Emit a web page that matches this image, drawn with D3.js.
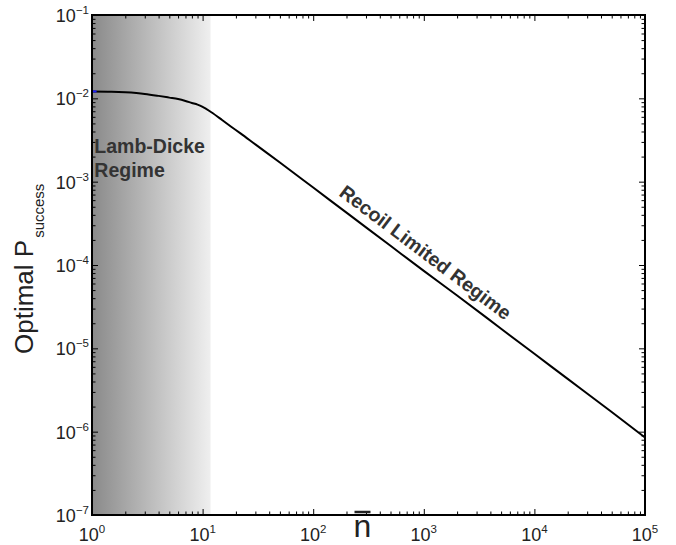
<!DOCTYPE html>
<html>
<head>
<meta charset="utf-8">
<script src="https://cdn.jsdelivr.net/npm/d3@7"></script>
<style>
  body { margin: 0; background: #fff; }
  text { font-family: "Liberation Sans", Arial, sans-serif; }
</style>
</head>
<body>
<div id="container"></div>
<script>
// values
var nbar = [1, 1.5, 2, 3, 4, 5, 6, 7, 8, 9, 10, 12, 15, 18, 22, 30, 50, 100, 200, 500, 1000, 2000, 5000, 1e4, 2e4, 5e4, 1e5];
var psuccess = [0.0121, 0.0120, 0.0118, 0.0113, 0.0107, 0.0102, 0.0098, 0.0093, 0.0088, 0.0084, 0.0079, 0.0068, 0.0055, 0.0046, 0.0038, 0.0028, 0.0017, 8.5e-4, 4.25e-4, 1.7e-4, 8.5e-5, 4.3e-5, 1.72e-5, 8.6e-6, 4.3e-6, 1.72e-6, 8.5e-7];
// short blue piece that peeks out at the start
var nbarBlue = [1, 1.1];
var psuccessBlue = [0.0121, 0.0121];

var xTickExp = [0, 1, 2, 3, 4, 5];
var yTickExp = [-7, -6, -5, -4, -3, -2, -1];
var lambDickeEnd = 11.8;   // where the shaded region stops

var margin = {top: 15, right: 31, bottom: 30, left: 92};
var outer_width = 676;
var outer_height = 545;
var w = outer_width - margin.left - margin.right;
var h = outer_height - margin.top - margin.bottom;

var svg = d3.select("#container").append("svg")
    .attr("width", outer_width)
    .attr("height", outer_height);

var xScale = d3.scaleLog().domain([1, 1e5]).range([0, w]);
var yScale = d3.scaleLog().domain([1e-7, 1e-1]).range([h, 0]);

var defs = svg.append("defs");
var grad = defs.append("linearGradient").attr("id", "ld")
    .attr("x1", "0%").attr("x2", "100%").attr("y1", "0%").attr("y2", "0%");
grad.append("stop").attr("offset", "0%").attr("stop-color", "#8a8a8a");
grad.append("stop").attr("offset", "100%").attr("stop-color", "#efefef");

var g = svg.append("g").attr("transform", "translate(" + margin.left + "," + margin.top + ")");

// shaded Lamb-Dicke region
g.append("rect")
    .attr("x", xScale(1)).attr("y", 0)
    .attr("width", xScale(lambDickeEnd) - xScale(1))
    .attr("height", h)
    .attr("fill", "url(#ld)");

// ticks (inside, on all four sides like matlab's box)
var xMajor = xTickExp.map(function(e){ return Math.pow(10, e); });
var yMajor = yTickExp.map(function(e){ return Math.pow(10, e); });
var xMinor = [], yMinor = [];
xTickExp.slice(0, -1).forEach(function(e){ for (var k = 2; k < 10; k++) xMinor.push(k * Math.pow(10, e)); });
yTickExp.slice(0, -1).forEach(function(e){ for (var k = 2; k < 10; k++) yMinor.push(k * Math.pow(10, e)); });

function tickAxis(axisFn, scale, vals, size, transform) {
    var a = g.append("g").attr("class", "ticks")
        .attr("transform", transform)
        .call(axisFn(scale).tickValues(vals).tickSize(size).tickSizeOuter(0).tickFormat(""));
    a.select(".domain").remove();
    a.selectAll("line").attr("stroke", "#000").attr("stroke-width", 1);
}
tickAxis(d3.axisBottom, xScale, xMajor, -6, "translate(0," + h + ")");
tickAxis(d3.axisBottom, xScale, xMinor, -3.5, "translate(0," + h + ")");
tickAxis(d3.axisTop, xScale, xMajor, -6, "translate(0,0)");
tickAxis(d3.axisTop, xScale, xMinor, -3.5, "translate(0,0)");
tickAxis(d3.axisLeft, yScale, yMajor, -6, "translate(0,0)");
tickAxis(d3.axisLeft, yScale, yMinor, -3.5, "translate(0,0)");
tickAxis(d3.axisRight, yScale, yMajor, -6, "translate(" + w + ",0)");
tickAxis(d3.axisRight, yScale, yMinor, -3.5, "translate(" + w + ",0)");

// curve
var data = nbar.map(function(n, i){ return {n: n, p: psuccess[i]}; });
var dataBlue = nbarBlue.map(function(n, i){ return {n: n, p: psuccessBlue[i]}; });
var line = d3.line()
    .x(function(d){ return xScale(d.n); })
    .y(function(d){ return yScale(d.p); })
    .curve(d3.curveMonotoneX);

g.append("path").datum(data)
    .attr("d", line)
    .attr("fill", "none")
    .attr("stroke", "#000")
    .attr("stroke-width", 2);
g.append("path").datum(dataBlue)
    .attr("d", line)
    .attr("fill", "none")
    .attr("stroke", "#1f1fff")
    .attr("stroke-width", 2);

// box
g.append("rect")
    .attr("x", 0).attr("y", 0).attr("width", w).attr("height", h)
    .attr("fill", "none").attr("stroke", "#000").attr("stroke-width", 2);

// tick labels
var xl = g.selectAll(".xlab").data(xTickExp).enter().append("text")
    .attr("class", "xlab")
    .attr("x", function(e){ return xScale(Math.pow(10, e)); })
    .attr("y", h + 26)
    .attr("text-anchor", "middle")
    .attr("font-size", 18)
    .attr("fill", "#222");
xl.append("tspan").text("10");
xl.append("tspan").attr("dy", -8).attr("font-size", 11.5).text(function(e){ return e; });

var yl = g.selectAll(".ylab").data(yTickExp).enter().append("text")
    .attr("class", "ylab")
    .attr("x", -3)
    .attr("y", function(e){ return yScale(Math.pow(10, e)) + 7; })
    .attr("text-anchor", "end")
    .attr("font-size", 18)
    .attr("fill", "#222");
yl.append("tspan").text("10");
yl.append("tspan").attr("dy", -8).attr("font-size", 11.5).text(function(e){ return "\u2212" + (-e); });

// axis labels
var ylab = svg.append("text")
    .attr("transform", "translate(33,354) rotate(-90)")
    .attr("font-size", 26)
    .attr("fill", "#222");
ylab.append("tspan").text("Optimal P");
ylab.append("tspan").attr("dy", 11).attr("dx", 2).attr("font-size", 15).text("success");

var xlabX = margin.left + w / 2 - 6;
svg.append("text")
    .attr("x", xlabX)
    .attr("y", outer_height - 8)
    .attr("text-anchor", "middle")
    .attr("font-size", 32)
    .attr("fill", "#222")
    .text("n");
svg.append("line")
    .attr("x1", xlabX - 8).attr("x2", xlabX + 8)
    .attr("y1", outer_height - 33).attr("y2", outer_height - 33)
    .attr("stroke", "#222").attr("stroke-width", 2.5);

// annotations
var ann = g.append("text")
    .attr("font-family", "'Open Sans', sans-serif")
    .attr("font-weight", "bold")
    .attr("font-size", 19.5)
    .attr("fill", "#333");
ann.append("tspan").attr("x", xScale(1.05)).attr("y", yScale(1e-2) + 55).text("Lamb-Dicke");
ann.append("tspan").attr("x", xScale(1.05)).attr("dy", 24).text("Regime");

var rn = 850;
var ang = Math.atan2(yScale(1e-6) - yScale(1e-5), xScale(1e5) - xScale(1e4)) * 180 / Math.PI;
g.append("text")
    .attr("transform", "translate(" + xScale(rn) + "," + yScale(0.085 / rn) + ") rotate(" + ang + ")")
    .attr("dy", -9)
    .attr("text-anchor", "middle")
    .attr("font-family", "'Open Sans', sans-serif")
    .attr("font-weight", "bold")
    .attr("font-size", 19.5)
    .attr("fill", "#333")
    .text("Recoil Limited Regime");
</script>
</body>
</html>
